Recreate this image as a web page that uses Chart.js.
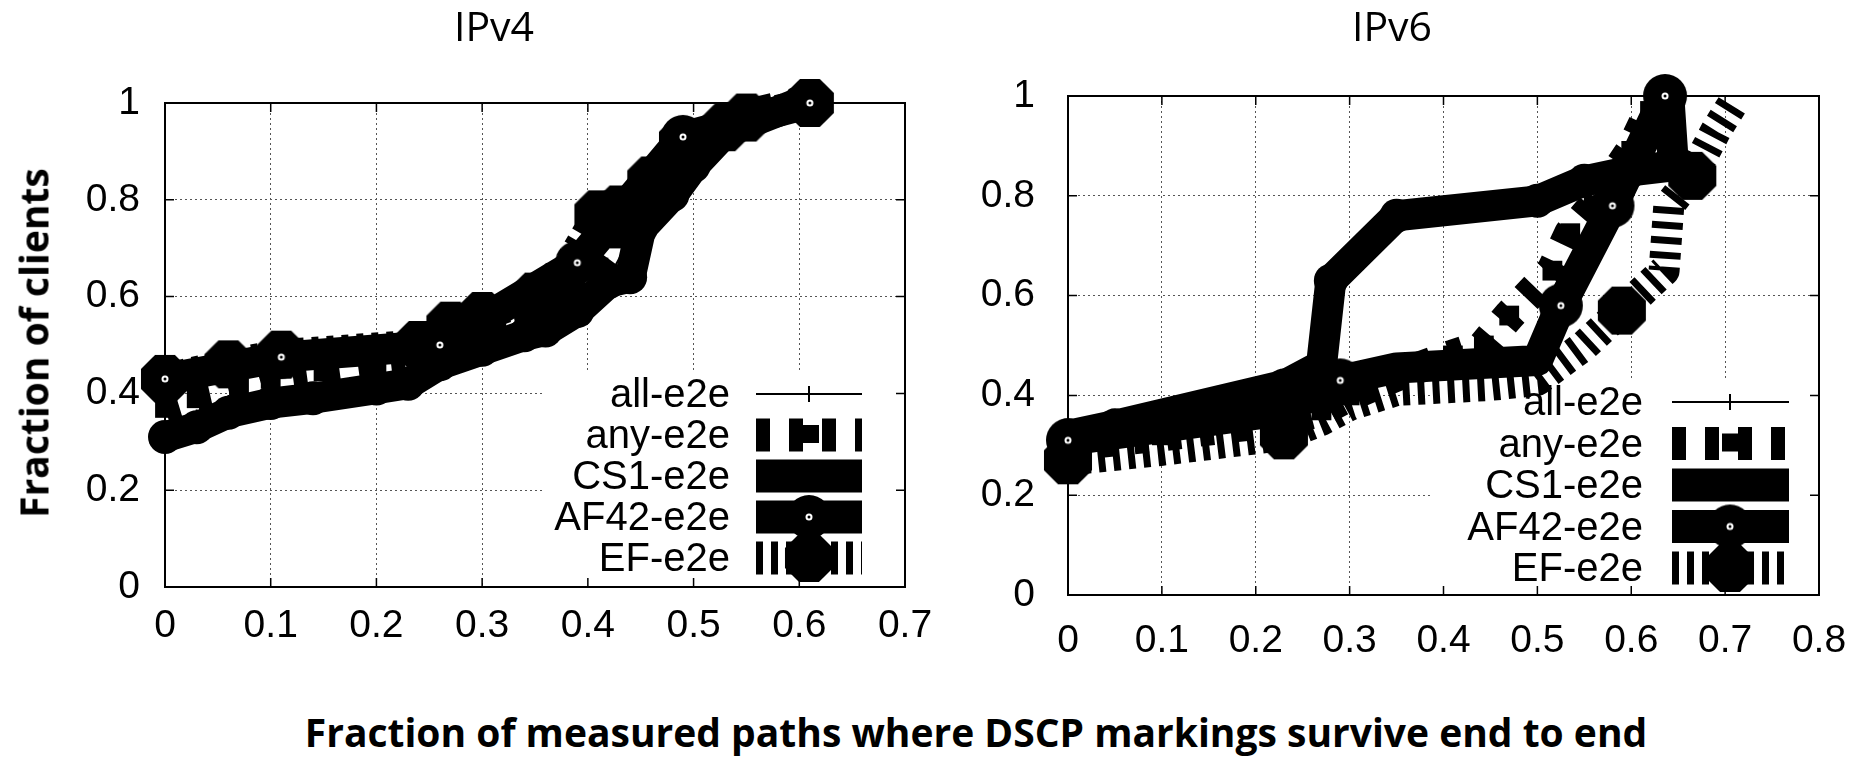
<!DOCTYPE html>
<html>
<head>
<meta charset="utf-8">
<script src="https://cdn.jsdelivr.net/npm/chart.js@4/dist/chart.umd.min.js"></script>
<style>
  body { margin: 0; background: #fff; }
  #wrap { position: relative; width: 1874px; height: 757px; overflow: hidden; background: #fff; }
  #wrap canvas { position: absolute; top: 0; }
  .ttl { position: absolute; font-family: "Open Sans", sans-serif; color: #000; white-space: nowrap; transform: translate(-50%, -50%); }
  .panel { font-size: 41px; top: 25px; }
  .axis { font-size: 39px; font-weight: bold; }
</style>
</head>
<body>
<div id="wrap">
  <canvas id="c4" width="960" height="680" style="left:0"></canvas>
  <canvas id="c6" width="914" height="680" style="left:960px"></canvas>
  <div class="ttl panel" style="left:494px">IPv4</div>
  <div class="ttl panel" style="left:1392px">IPv6</div>
  <div class="ttl axis" style="left:33px; top:343px; transform: translate(-50%, -50%) rotate(-90deg)">Fraction of clients</div>
  <div class="ttl axis" style="left:976px; top:731px">Fraction of measured paths where DSCP markings survive end to end</div>
</div>
<script>
// ---- data ----
var seriesNames = ['all-e2e', 'any-e2e', 'CS1-e2e', 'AF42-e2e', 'EF-e2e'];
var yTickLabels = ['0', '0.2', '0.4', '0.6', '0.8', '1'];
var xTickLabelsV4 = ['0', '0.1', '0.2', '0.3', '0.4', '0.5', '0.6', '0.7'];
var xTickLabelsV6 = ['0', '0.1', '0.2', '0.3', '0.4', '0.5', '0.6', '0.7', '0.8'];

// IPv4, [fraction of paths, fraction of clients]
var v4All = [[0,0.31],[0.03,0.35],[0.06,0.38],[0.1,0.40],[0.15,0.41],[0.2,0.43],[0.24,0.45],[0.27,0.48],[0.3,0.5],[0.34,0.53],[0.37,0.55],[0.4,0.6],[0.42,0.64],[0.44,0.72],[0.47,0.8],[0.5,0.9],[0.53,0.95],[0.6,1.0]];
var v4Any = [[0,0.37],[0.03,0.39],[0.07,0.41],[0.1,0.43],[0.15,0.445],[0.2,0.46],[0.24,0.47],[0.27,0.5],[0.3,0.53],[0.34,0.56],[0.38,0.6],[0.41,0.66],[0.43,0.72],[0.46,0.8],[0.49,0.88],[0.52,0.95],[0.56,0.98],[0.6,1.0]];
var v4CS1 = [[0,0.31],[0.03,0.33],[0.06,0.36],[0.1,0.38],[0.14,0.39],[0.2,0.41],[0.23,0.42],[0.26,0.46],[0.3,0.49],[0.34,0.52],[0.36,0.53],[0.39,0.57],[0.42,0.63],[0.44,0.64],[0.45,0.74],[0.48,0.81],[0.5,0.87],[0.53,0.94],[0.6,1.0]];
var v4AF42 = [[0,0.43],[0.11,0.475],[0.26,0.5],[0.39,0.67],[0.49,0.93],[0.61,1.0]];
var v4EF = [[0,0.43],[0.06,0.46],[0.11,0.48],[0.24,0.5],[0.27,0.54],[0.3,0.56],[0.35,0.6],[0.37,0.62],[0.41,0.77],[0.43,0.78],[0.46,0.84],[0.49,0.92],[0.53,0.95],[0.55,0.97],[0.61,1.0]];

// IPv6
var v6All = [[0,0.3],[0.05,0.32],[0.23,0.37],[0.29,0.43],[0.35,0.45],[0.5,0.47],[0.53,0.58],[0.58,0.78],[0.6,0.9],[0.64,1.0]];
var v6Any = [[0,0.3],[0.1,0.32],[0.23,0.35],[0.27,0.37],[0.3,0.4],[0.35,0.44],[0.41,0.48],[0.443,0.5],[0.47,0.56],[0.516,0.65],[0.535,0.725],[0.56,0.78],[0.6,0.89],[0.62,0.97],[0.64,1.0]];
var v6CS1 = [[0,0.32],[0.05,0.34],[0.23,0.42],[0.27,0.46],[0.28,0.63],[0.35,0.76],[0.5,0.79],[0.55,0.83],[0.6,0.85],[0.645,0.86],[0.64,1.0]];
var v6AF42 = [[0,0.31],[0.23,0.37],[0.29,0.43],[0.35,0.455],[0.5,0.47],[0.525,0.58],[0.58,0.78],[0.636,1.0]];
var v6EF = [[0,0.27],[0.1,0.29],[0.23,0.32],[0.27,0.35],[0.3,0.38],[0.35,0.41],[0.45,0.42],[0.5,0.43],[0.55,0.5],[0.59,0.57],[0.635,0.65],[0.64,0.78],[0.665,0.84],[0.69,0.93],[0.71,0.99]];

// ---- styles ----
// gnuplot only put a marker on some of the points of these lines
var v6AF42Marked = [0, 2, 5, 6, 7];
var v6EFMarked = [0, 2, 9, 12];

Chart.defaults.font.family = '"Liberation Sans", Arial, sans-serif';
Chart.defaults.color = '#000';

// filled circle with a little white ring in the middle (AF42)
function makeDot() {
  var c = document.createElement('canvas');
  c.width = c.height = 46;
  var g = c.getContext('2d');
  g.fillStyle = '#000';
  g.beginPath(); g.arc(23, 23, 22, 0, 2 * Math.PI); g.fill();
  g.fillStyle = '#fff';
  g.beginPath(); g.arc(23, 23, 3.5, 0, 2 * Math.PI); g.fill();
  g.fillStyle = '#000';
  g.beginPath(); g.arc(23, 23, 1.5, 0, 2 * Math.PI); g.fill();
  return c;
}
// big filled octagon (EF)
function makeOctagon() {
  var c = document.createElement('canvas');
  c.width = c.height = 52;
  var g = c.getContext('2d');
  g.fillStyle = '#000';
  g.beginPath();
  for (var i = 0; i < 8; i++) {
    var a = Math.PI / 8 + i * Math.PI / 4;
    g.lineTo(26 + 26 * Math.cos(a), 26 + 26 * Math.sin(a));
  }
  g.closePath();
  g.fill();
  return c;
}
var dotImg = makeDot();
var octImg = makeOctagon();

function pts(list) {
  return list.map(function (p) { return { x: p[0], y: p[1] }; });
}
function onlyAt(marked, img) {
  if (!marked) return img;
  return function (c) { return marked.indexOf(c.dataIndex) >= 0 ? img : false; };
}

function makeSets(all, any, cs1, af42, ef, af42Marks, efMarks) {
  var common = { showLine: true, fill: false, clip: false, borderColor: '#000', backgroundColor: '#000',
    pointBackgroundColor: '#000', pointBorderColor: '#000', borderJoinStyle: 'round', borderCapStyle: 'butt', tension: 0 };
  return [
    Object.assign({}, common, { label: seriesNames[0], data: pts(all), borderWidth: 2, pointStyle: 'cross', pointRadius: 8, pointBorderWidth: 2, order: 5 }),
    Object.assign({}, common, { label: seriesNames[1], data: pts(any), borderWidth: 32, borderDash: [14, 19], pointStyle: 'rect', pointRadius: 14, pointBorderWidth: 0, order: 4 }),
    Object.assign({}, common, { label: seriesNames[2], data: pts(cs1), borderWidth: 31, pointStyle: 'circle', pointRadius: 17, pointBorderWidth: 0, order: 3 }),
    Object.assign({}, common, { label: seriesNames[3], data: pts(af42), borderWidth: 31, pointStyle: onlyAt(af42Marks, dotImg), pointRadius: 20, order: 1 }),
    Object.assign({}, common, { label: seriesNames[4], data: pts(ef), borderWidth: 31, borderDash: [7, 8], pointStyle: onlyAt(efMarks, octImg), pointRadius: 24, order: 2 })
  ];
}

// gnuplot look: full frame, inward tick marks, opaque key box with samples
var gnuFrame = {
  id: 'gnuFrame',
  beforeDatasetsDraw: function (chart, args, k) {
    var a = chart.chartArea, ctx = chart.ctx;
    ctx.save();
    ctx.fillStyle = '#fff';
    ctx.fillRect(k.boxLeft, k.boxTop, k.boxRight - k.boxLeft, a.bottom - k.boxTop - 1);
    ctx.strokeStyle = '#000';
    ctx.lineWidth = 1.5;
    ctx.beginPath();
    chart.scales.x.ticks.forEach(function (t) {
      var px = chart.scales.x.getPixelForValue(t.value);
      ctx.moveTo(px, a.bottom); ctx.lineTo(px, a.bottom - 9);
      ctx.moveTo(px, a.top); ctx.lineTo(px, a.top + 9);
    });
    chart.scales.y.ticks.forEach(function (t) {
      var py = chart.scales.y.getPixelForValue(t.value);
      ctx.moveTo(a.left, py); ctx.lineTo(a.left + 9, py);
      ctx.moveTo(a.right, py); ctx.lineTo(a.right - 9, py);
    });
    ctx.stroke();
    ctx.lineWidth = 2;
    ctx.strokeRect(a.left, a.top, a.right - a.left, a.bottom - a.top);
    ctx.restore();
  },
  afterDatasetsDraw: function (chart, args, k) {
    var ctx = chart.ctx;
    ctx.save();
    ctx.font = '40px "Liberation Sans", Arial, sans-serif';
    ctx.fillStyle = '#000';
    ctx.strokeStyle = '#000';
    ctx.textAlign = 'right';
    ctx.textBaseline = 'middle';
    seriesNames.forEach(function (name, i) {
      var y = k.y0 + i * k.dy;
      ctx.fillText(name, k.textRight, y + 2);
      ctx.setLineDash([]);
      ctx.lineCap = 'butt';
      if (i === 0) {
        ctx.lineWidth = 2;
        ctx.beginPath();
        ctx.moveTo(k.x0, y); ctx.lineTo(k.x1, y);
        ctx.moveTo(k.mx, y - 8); ctx.lineTo(k.mx, y + 8);
        ctx.stroke();
        return;
      }
      ctx.lineWidth = 33;
      if (i === 1) ctx.setLineDash([14, 19]);
      if (i === 4) ctx.setLineDash([7, 8]);
      ctx.beginPath();
      ctx.moveTo(k.x0, y); ctx.lineTo(k.x1, y);
      ctx.stroke();
      ctx.setLineDash([]);
      if (i === 1) ctx.fillRect(k.mx - 8, y - 10, 18, 18);
      if (i === 3) ctx.drawImage(dotImg, k.mx - 23, y - 23);
      if (i === 4) ctx.drawImage(octImg, k.mx - 26, y - 26);
    });
    ctx.restore();
  }
};

function buildChart(id, sets, xMax, xLabels, box) {
  return new Chart(document.getElementById(id), {
    type: 'scatter',
    data: { datasets: sets },
    plugins: [gnuFrame],
    options: {
      responsive: false,
      animation: false,
      events: [],
      layout: { padding: { left: 0, right: box.padRight, top: box.padTop, bottom: 0 } },
      plugins: { legend: { display: false }, tooltip: { enabled: false }, gnuFrame: box.key },
      scales: {
        x: {
          type: 'linear', min: 0, max: xMax,
          afterFit: function (s) { s.height = box.xHeight; s.paddingLeft = 0; s.paddingRight = 0; },
          ticks: { stepSize: 0.1, padding: box.xPad, maxRotation: 0, autoSkip: false, font: { size: 39 },
            callback: function (v) { return xLabels[Math.round(v * 10)]; } },
          grid: { color: '#555', lineWidth: 1, drawTicks: false },
          border: { display: false, dash: [2, 3] }
        },
        y: {
          type: 'linear', min: 0, max: 1,
          afterFit: function (s) { s.width = box.yWidth; s.paddingTop = 0; s.paddingBottom = 0; },
          ticks: { stepSize: 0.2, padding: box.yPad, font: { size: 39 },
            callback: function (v) { return yTickLabels[Math.round(v * 5)]; } },
          grid: { color: '#555', lineWidth: 1, drawTicks: false },
          border: { display: false, dash: [2, 3] }
        }
      }
    }
  });
}

buildChart('c4', makeSets(v4All, v4Any, v4CS1, v4AF42, v4EF), 0.7, xTickLabelsV4, {
  padRight: 37, padTop: 103, xHeight: 93, yWidth: 165, xPad: 16, yPad: 25,
  key: { boxLeft: 544, boxTop: 373, boxRight: 901, textRight: 730, x0: 756, x1: 862, mx: 809, y0: 394, dy: 41 }
});
buildChart('c6', makeSets(v6All, v6Any, v6CS1, v6AF42, v6EF, v6AF42Marked, v6EFMarked), 0.8, xTickLabelsV6, {
  padRight: 25, padTop: 96, xHeight: 85, yWidth: 108, xPad: 23, yPad: 33,
  key: { boxLeft: 473, boxTop: 380, boxRight: 867, textRight: 683, x0: 712, x1: 829, mx: 770, y0: 402, dy: 41.5 }
});
</script>
</body>
</html>
